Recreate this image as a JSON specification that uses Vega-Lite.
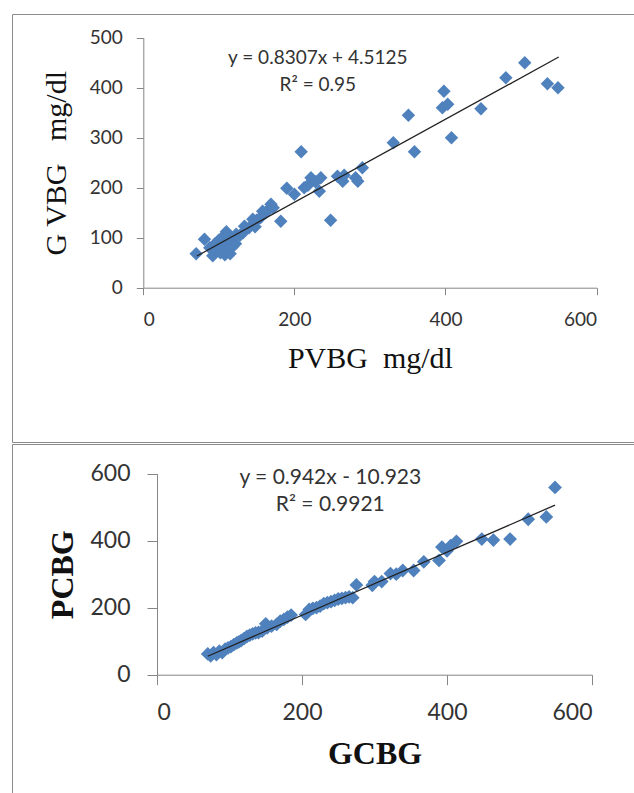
{
  "$schema": "https://vega.github.io/schema/vega-lite/v6.json",
  "padding": {"left": 11, "top": 13, "right": 0, "bottom": 0},
  "background": "white",
  "spacing": 0,
  "config": {
    "view": {"stroke": "#8c8c8c", "strokeWidth": 1},
    "axis": {
      "grid": false,
      "domainColor": "#868686",
      "tickColor": "#868686",
      "labelColor": "#333333",
      "labelFont": "Lato",
      "titleFont": "Liberation Serif",
      "titleColor": "#111111",
      "titleFontWeight": "normal"
    }
  },
  "datasets": {
    "top": [
      {"pvbg": 70, "gvbg": 68}, {"pvbg": 81, "gvbg": 97}, {"pvbg": 88, "gvbg": 80}, {"pvbg": 92, "gvbg": 64},
      {"pvbg": 95, "gvbg": 88}, {"pvbg": 98, "gvbg": 75}, {"pvbg": 100, "gvbg": 95}, {"pvbg": 102, "gvbg": 70},
      {"pvbg": 104, "gvbg": 100}, {"pvbg": 106, "gvbg": 85}, {"pvbg": 108, "gvbg": 66}, {"pvbg": 110, "gvbg": 112},
      {"pvbg": 110, "gvbg": 90}, {"pvbg": 112, "gvbg": 105}, {"pvbg": 113, "gvbg": 78}, {"pvbg": 115, "gvbg": 68},
      {"pvbg": 116, "gvbg": 95}, {"pvbg": 118, "gvbg": 82}, {"pvbg": 120, "gvbg": 100}, {"pvbg": 122, "gvbg": 88},
      {"pvbg": 123, "gvbg": 107}, {"pvbg": 128, "gvbg": 105}, {"pvbg": 132, "gvbg": 110}, {"pvbg": 134, "gvbg": 123},
      {"pvbg": 140, "gvbg": 120}, {"pvbg": 145, "gvbg": 137}, {"pvbg": 148, "gvbg": 122}, {"pvbg": 150, "gvbg": 135},
      {"pvbg": 155, "gvbg": 140}, {"pvbg": 158, "gvbg": 153}, {"pvbg": 162, "gvbg": 150}, {"pvbg": 165, "gvbg": 155},
      {"pvbg": 169, "gvbg": 167}, {"pvbg": 172, "gvbg": 160}, {"pvbg": 182, "gvbg": 133}, {"pvbg": 190, "gvbg": 199},
      {"pvbg": 200, "gvbg": 187}, {"pvbg": 209, "gvbg": 272}, {"pvbg": 213, "gvbg": 200}, {"pvbg": 218, "gvbg": 205},
      {"pvbg": 222, "gvbg": 220}, {"pvbg": 228, "gvbg": 212}, {"pvbg": 233, "gvbg": 193}, {"pvbg": 235, "gvbg": 220},
      {"pvbg": 248, "gvbg": 135}, {"pvbg": 257, "gvbg": 223}, {"pvbg": 264, "gvbg": 213}, {"pvbg": 266, "gvbg": 225},
      {"pvbg": 281, "gvbg": 220}, {"pvbg": 284, "gvbg": 213}, {"pvbg": 290, "gvbg": 240}, {"pvbg": 331, "gvbg": 290},
      {"pvbg": 351, "gvbg": 345}, {"pvbg": 359, "gvbg": 272}, {"pvbg": 396, "gvbg": 360}, {"pvbg": 398, "gvbg": 393},
      {"pvbg": 403, "gvbg": 367}, {"pvbg": 408, "gvbg": 300}, {"pvbg": 447, "gvbg": 358}, {"pvbg": 480, "gvbg": 420},
      {"pvbg": 505, "gvbg": 450}, {"pvbg": 535, "gvbg": 408}, {"pvbg": 549, "gvbg": 400}
    ],
    "bottom": [
      {"gcbg": 70, "pcbg": 62}, {"gcbg": 74, "pcbg": 56}, {"gcbg": 78, "pcbg": 66}, {"gcbg": 82, "pcbg": 60},
      {"gcbg": 86, "pcbg": 70}, {"gcbg": 90, "pcbg": 66}, {"gcbg": 94, "pcbg": 76}, {"gcbg": 98, "pcbg": 80},
      {"gcbg": 102, "pcbg": 84}, {"gcbg": 106, "pcbg": 90}, {"gcbg": 110, "pcbg": 95}, {"gcbg": 113, "pcbg": 98},
      {"gcbg": 116, "pcbg": 102}, {"gcbg": 120, "pcbg": 108}, {"gcbg": 124, "pcbg": 114}, {"gcbg": 128, "pcbg": 118},
      {"gcbg": 132, "pcbg": 122}, {"gcbg": 136, "pcbg": 125}, {"gcbg": 140, "pcbg": 126}, {"gcbg": 145, "pcbg": 130},
      {"gcbg": 150, "pcbg": 152}, {"gcbg": 152, "pcbg": 140}, {"gcbg": 158, "pcbg": 145}, {"gcbg": 165, "pcbg": 150},
      {"gcbg": 170, "pcbg": 160}, {"gcbg": 175, "pcbg": 165}, {"gcbg": 180, "pcbg": 172}, {"gcbg": 185, "pcbg": 178},
      {"gcbg": 205, "pcbg": 180}, {"gcbg": 210, "pcbg": 195}, {"gcbg": 215, "pcbg": 198}, {"gcbg": 220, "pcbg": 200},
      {"gcbg": 225, "pcbg": 205}, {"gcbg": 230, "pcbg": 212}, {"gcbg": 235, "pcbg": 215}, {"gcbg": 240, "pcbg": 218},
      {"gcbg": 245, "pcbg": 222}, {"gcbg": 250, "pcbg": 226}, {"gcbg": 255, "pcbg": 228}, {"gcbg": 260, "pcbg": 230},
      {"gcbg": 265, "pcbg": 232}, {"gcbg": 270, "pcbg": 230}, {"gcbg": 275, "pcbg": 268}, {"gcbg": 297, "pcbg": 267},
      {"gcbg": 300, "pcbg": 278}, {"gcbg": 310, "pcbg": 278}, {"gcbg": 322, "pcbg": 302}, {"gcbg": 330, "pcbg": 300},
      {"gcbg": 339, "pcbg": 311}, {"gcbg": 354, "pcbg": 311}, {"gcbg": 368, "pcbg": 337}, {"gcbg": 389, "pcbg": 341},
      {"gcbg": 393, "pcbg": 381}, {"gcbg": 400, "pcbg": 370}, {"gcbg": 405, "pcbg": 385}, {"gcbg": 413, "pcbg": 398},
      {"gcbg": 448, "pcbg": 405}, {"gcbg": 464, "pcbg": 402}, {"gcbg": 487, "pcbg": 405}, {"gcbg": 512, "pcbg": 464},
      {"gcbg": 537, "pcbg": 471}, {"gcbg": 549, "pcbg": 559}
    ],
    "one": [{}]
  },
  "vconcat": [
    {
      "width": 700,
      "height": 428,
      "layer": [
        {
          "data": {"name": "top"},
          "mark": {"type": "point", "shape": "diamond", "filled": true, "size": 180, "color": "#4F81BD", "opacity": 1},
          "encoding": {
            "x": {
              "field": "pvbg", "type": "quantitative",
              "scale": {"domain": [0, 600], "range": [131.3, 584.5], "nice": false, "zero": false},
              "axis": {"title": "PVBG\u00a0\u00a0mg/dl", "values": [0, 200, 400, 600], "offset": -154.3, "tickSize": 7, "labelPadding": 16, "labelFontSize": 19, "titleFontSize": 30, "titlePadding": 14}
            },
            "y": {
              "field": "gvbg", "type": "quantitative",
              "scale": {"domain": [0, 500], "range": [273.7, 23.7], "nice": false, "zero": false},
              "axis": {"title": "G VBG\u00a0\u00a0\u00a0mg/dl", "values": [0, 100, 200, 300, 400, 500], "offset": -131.3, "tickSize": 7, "labelPadding": 14, "labelFontSize": 19, "titleFontSize": 30, "titlePadding": 18}
            }
          }
        },
        {
          "data": {"name": "one"},
          "mark": {"type": "rule", "color": "#222222", "strokeWidth": 1.3},
          "encoding": {"x": {"datum": 71}, "y": {"datum": 63.5}, "x2": {"datum": 550}, "y2": {"datum": 461.4}}
        },
        {
          "data": {"name": "one"},
          "mark": {"type": "text", "font": "Lato", "fontSize": 19, "color": "#333333", "align": "center", "baseline": "middle"},
          "encoding": {"x": {"datum": 231}, "y": {"datum": 459}, "text": {"value": "y = 0.8307x + 4.5125"}}
        },
        {
          "data": {"name": "one"},
          "mark": {"type": "text", "font": "Lato", "fontSize": 19, "color": "#333333", "align": "center", "baseline": "middle"},
          "encoding": {"x": {"datum": 231}, "y": {"datum": 405}, "text": {"value": "R² = 0.95"}}
        }
      ]
    },
    {
      "width": 700,
      "height": 360,
      "layer": [
        {
          "data": {"name": "bottom"},
          "mark": {"type": "point", "shape": "diamond", "filled": true, "size": 190, "color": "#4F81BD", "opacity": 1},
          "encoding": {
            "x": {
              "field": "gcbg", "type": "quantitative",
              "scale": {"domain": [0, 600], "range": [145, 580], "nice": false, "zero": false},
              "axis": {"title": "GCBG", "titleFontWeight": "bold", "values": [0, 200, 400, 600], "offset": -129.3, "tickSize": 10, "labelPadding": 17, "labelFontSize": 23, "titleFontSize": 32, "titlePadding": 14}
            },
            "y": {
              "field": "pcbg", "type": "quantitative",
              "scale": {"domain": [0, 600], "range": [230.7, 29.7], "nice": false, "zero": false},
              "axis": {"title": "PCBG", "titleFontWeight": "bold", "values": [0, 200, 400, 600], "offset": -145, "tickSize": 10, "labelPadding": 17, "labelFontSize": 23, "titleFontSize": 32, "titlePadding": 10}
            }
          }
        },
        {
          "data": {"name": "one"},
          "mark": {"type": "rule", "color": "#222222", "strokeWidth": 1.3},
          "encoding": {"x": {"datum": 70}, "y": {"datum": 55}, "x2": {"datum": 549}, "y2": {"datum": 506.2}}
        },
        {
          "data": {"name": "one"},
          "mark": {"type": "text", "font": "Lato", "fontSize": 21, "color": "#333333", "align": "center", "baseline": "middle"},
          "encoding": {"x": {"datum": 239}, "y": {"datum": 587}, "text": {"value": "y = 0.942x - 10.923"}}
        },
        {
          "data": {"name": "one"},
          "mark": {"type": "text", "font": "Lato", "fontSize": 21, "color": "#333333", "align": "center", "baseline": "middle"},
          "encoding": {"x": {"datum": 239}, "y": {"datum": 507}, "text": {"value": "R² = 0.9921"}}
        }
      ]
    }
  ]
}
